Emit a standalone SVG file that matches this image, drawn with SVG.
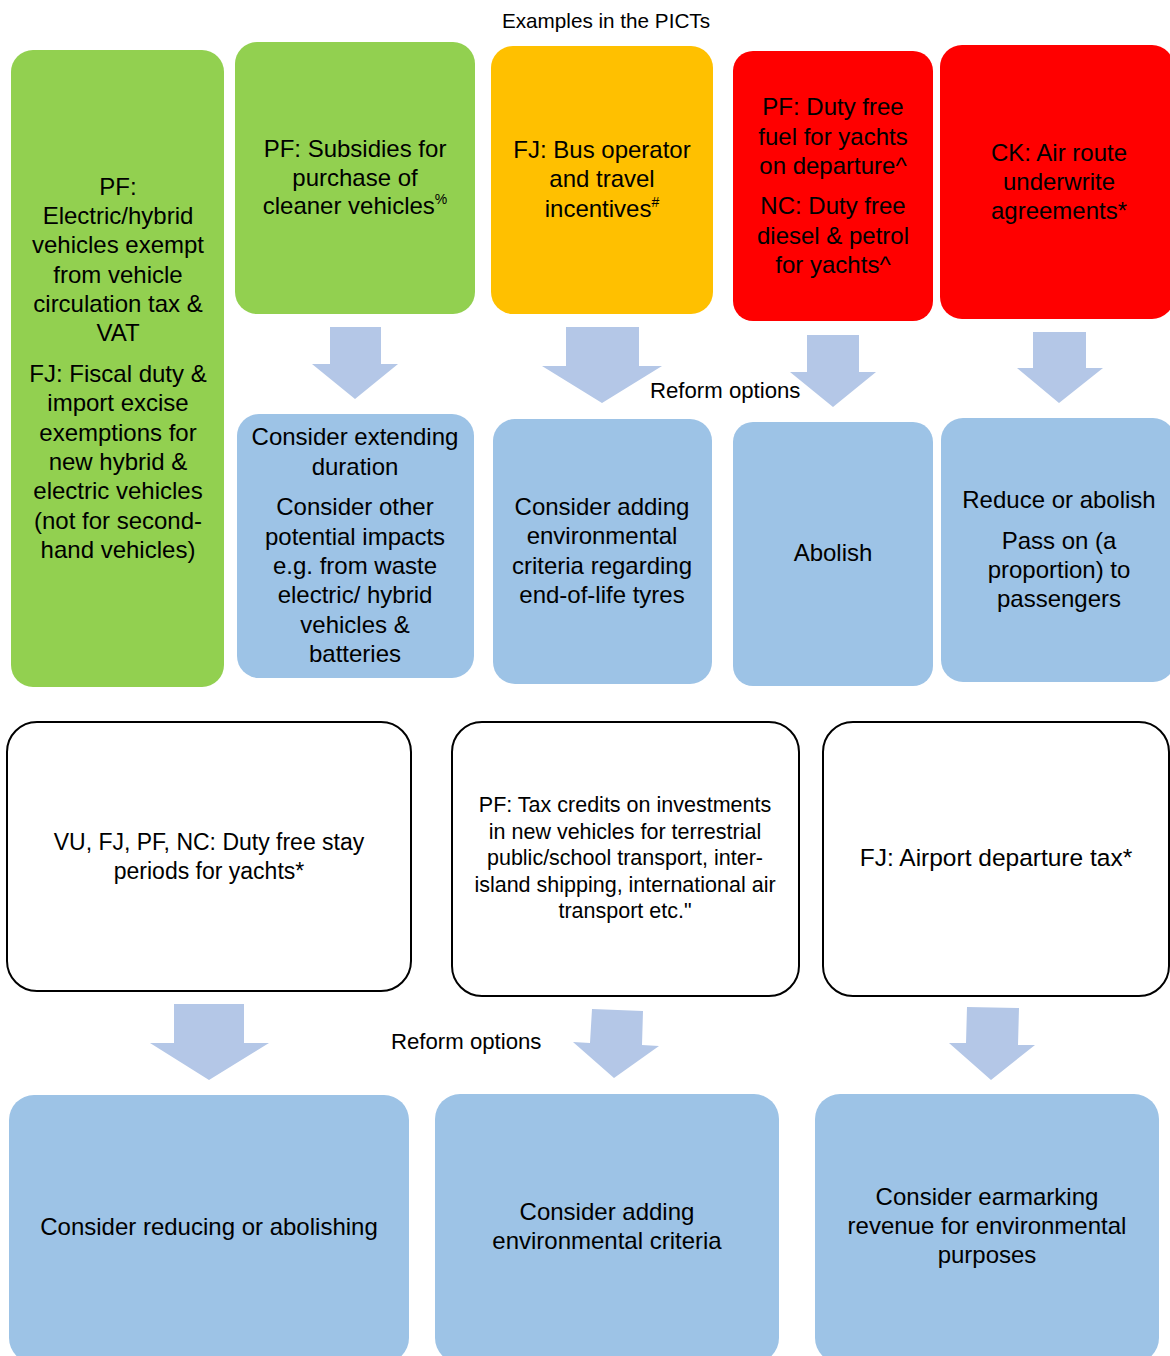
<svg xmlns="http://www.w3.org/2000/svg" width="1170" height="1356" viewBox="0 0 1170 1356">
<style>
text{font-family:"Liberation Sans",Arial,sans-serif;fill:#000;text-anchor:middle;font-size:24px}
.t20{font-size:20.7px}
.ro{font-size:22.2px;text-anchor:start}
.s21{font-size:21.5px}
.s23{font-size:23px}
.s245{font-size:24.5px}
.green{fill:#92D050}
.yellow{fill:#FFC000}
.red{fill:#FF0000}
.blue{fill:#9DC3E6}
.white{fill:#FFFFFF;stroke:#000;stroke-width:2}
.arrow{fill:#B4C7E7}
.sup{font-size:14px}
</style>
<rect width="1170" height="1356" fill="#FFFFFF"/>
<text class="t20" x="606" y="28">Examples in the PICTs</text>
<text class="ro" x="650" y="398">Reform options</text>
<text class="ro" x="391" y="1049">Reform options</text>

<g id="n1">
<rect class="green" x="11" y="50" width="213" height="637" rx="22"/>
<text x="118" y="195">PF:</text>
<text x="118" y="224">Electric/hybrid</text>
<text x="118" y="253">vehicles exempt</text>
<text x="118" y="283">from vehicle</text>
<text x="118" y="312">circulation tax &amp;</text>
<text x="118" y="341">VAT</text>
<text x="118" y="382">FJ: Fiscal duty &amp;</text>
<text x="118" y="411">import excise</text>
<text x="118" y="441">exemptions for</text>
<text x="118" y="470">new hybrid &amp;</text>
<text x="118" y="499">electric vehicles</text>
<text x="118" y="529">(not for second-</text>
<text x="118" y="558">hand vehicles)</text>
</g>
<g id="n2">
<rect class="green" x="235" y="42" width="240" height="272" rx="22"/>
<text x="355" y="157">PF: Subsidies for</text>
<text x="355" y="186">purchase of</text>
<text x="355" y="214">cleaner vehicles<tspan class="sup" dy="-10">%</tspan></text>
</g>
<g id="n3">
<rect class="yellow" x="491" y="46" width="222" height="268" rx="22"/>
<text x="602" y="158">FJ: Bus operator</text>
<text x="602" y="187">and travel</text>
<text x="602" y="217">incentives<tspan class="sup" dy="-10">#</tspan></text>
</g>
<g id="n4">
<rect class="red" x="733" y="51" width="200" height="270" rx="20"/>
<text x="833" y="115">PF: Duty free</text>
<text x="833" y="145">fuel for yachts</text>
<text x="833" y="174">on departure^</text>
<text x="833" y="214">NC: Duty free</text>
<text x="833" y="244">diesel &amp; petrol</text>
<text x="833" y="273">for yachts^</text>
</g>
<g id="n5">
<rect class="red" x="940" y="45" width="234" height="274" rx="22"/>
<text x="1059" y="161">CK: Air route</text>
<text x="1059" y="190">underwrite</text>
<text x="1059" y="219">agreements*</text>
</g>

<g id="n6">
<rect class="blue" x="237" y="414" width="237" height="264" rx="22"/>
<text x="355" y="445">Consider extending</text>
<text x="355" y="475">duration</text>
<text x="355" y="515">Consider other</text>
<text x="355" y="545">potential impacts</text>
<text x="355" y="574">e.g. from waste</text>
<text x="355" y="603">electric/ hybrid</text>
<text x="355" y="633">vehicles &amp;</text>
<text x="355" y="662">batteries</text>
</g>
<g id="n7">
<rect class="blue" x="493" y="419" width="219" height="265" rx="22"/>
<text x="602" y="515">Consider adding</text>
<text x="602" y="544">environmental</text>
<text x="602" y="574">criteria regarding</text>
<text x="602" y="603">end-of-life tyres</text>
</g>
<g id="n8">
<rect class="blue" x="733" y="422" width="200" height="264" rx="20"/>
<text x="833" y="561">Abolish</text>
</g>
<g id="n9">
<rect class="blue" x="941" y="418" width="234" height="264" rx="22"/>
<text x="1059" y="508">Reduce or abolish</text>
<text x="1059" y="549">Pass on (a</text>
<text x="1059" y="578">proportion) to</text>
<text x="1059" y="607">passengers</text>
</g>

<g id="n10">
<rect class="white" x="7" y="722" width="404" height="269" rx="30"/>
<text class="s23" x="209" y="850">VU, FJ, PF, NC: Duty free stay</text>
<text class="s23" x="209" y="879">periods for yachts*</text>
</g>
<g id="n11">
<rect class="white" x="452" y="722" width="347" height="274" rx="30"/>
<text class="s21" x="625" y="812">PF: Tax credits on investments</text>
<text class="s21" x="625" y="839">in new vehicles for terrestrial</text>
<text class="s21" x="625" y="865">public/school transport, inter-</text>
<text class="s21" x="625" y="892">island shipping, international air</text>
<text class="s21" x="625" y="918">transport etc."</text>
</g>
<g id="n12">
<rect class="white" x="823" y="722" width="346" height="274" rx="30"/>
<text class="s245" x="996" y="866">FJ: Airport departure tax*</text>
</g>

<g id="n13">
<rect class="blue" x="9" y="1095" width="400" height="268" rx="25"/>
<text x="209" y="1235">Consider reducing or abolishing</text>
</g>
<g id="n14">
<rect class="blue" x="435" y="1094" width="344" height="269" rx="25"/>
<text x="607" y="1220">Consider adding</text>
<text x="607" y="1249">environmental criteria</text>
</g>
<g id="n15">
<rect class="blue" x="815" y="1094" width="344" height="269" rx="25"/>
<text x="987" y="1205">Consider earmarking</text>
<text x="987" y="1234">revenue for environmental</text>
<text x="987" y="1263">purposes</text>
</g>

<g id="connectors">
<polygon class="arrow" points="330,327 381,327 381,364 398,364 355,399 312,364 330,364"/>
<polygon class="arrow" points="566,327 639,327 639,366 662,366 602,403 542,366 566,366"/>
<polygon class="arrow" points="807,335 859,335 859,372 876,372 833,407 790,372 807,372"/>
<polygon class="arrow" points="1033,332 1086,332 1086,368 1103,368 1059,403 1017,368 1033,368"/>
<polygon class="arrow" points="174,1004 244,1004 244,1043 269,1043 209,1080 150,1043 174,1043"/>
<polygon class="arrow" points="592,1009 643,1011 642,1045 659,1046 614,1078 573,1042 590,1043"/>
<polygon class="arrow" points="967,1007 1019,1008 1018,1045 1035,1045 991,1080 949,1043 966,1043"/>
</g>
</svg>
